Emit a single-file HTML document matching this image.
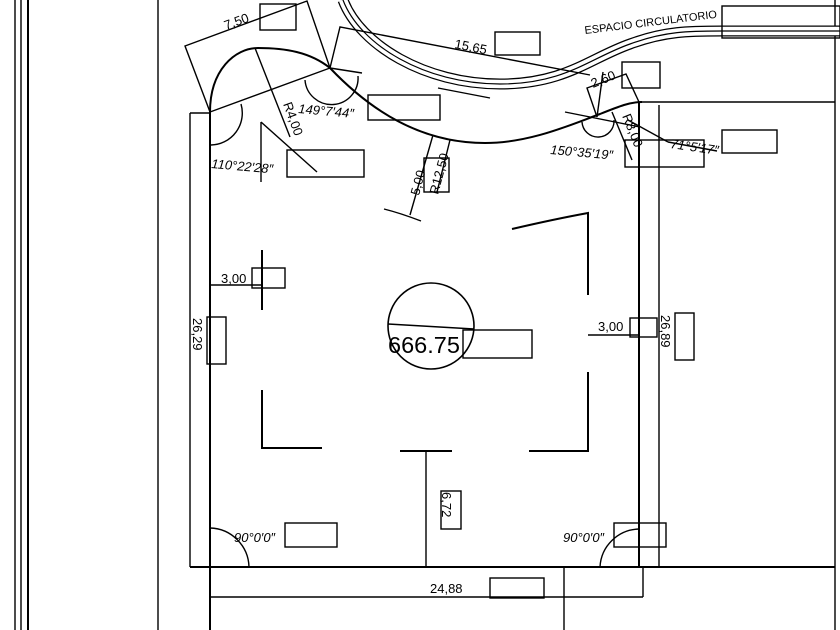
<!DOCTYPE html>
<html><head><meta charset="utf-8"><style>
html,body{margin:0;padding:0;background:#fff;}
svg{display:block;}
text{font-family:"Liberation Sans",sans-serif;fill:#000;}
</style></head><body>
<svg width="840" height="630" viewBox="0 0 840 630" xmlns="http://www.w3.org/2000/svg">
<g stroke="#000" fill="none" stroke-width="1.4">
<line x1="15" y1="0" x2="15" y2="630"/>
<line x1="21" y1="0" x2="21" y2="630"/>
<line x1="28" y1="0" x2="28" y2="630" stroke-width="2"/>
<line x1="158" y1="0" x2="158" y2="630"/>
<line x1="835" y1="0" x2="835" y2="630"/>
<path d="M343,0 C360,45 425,84 500,84 C565,84 590,58 630,44 C665,31 690,31 722,31 L840,31" stroke-width="11"/>
<path d="M343,0 C360,45 425,84 500,84 C565,84 590,58 630,44 C665,31 690,31 722,31 L840,31" stroke="#fff" stroke-width="8.5"/>
<path d="M343,0 C360,45 425,84 500,84 C565,84 590,58 630,44 C665,31 690,31 722,31 L840,31" stroke-width="1.2"/>
<line x1="438" y1="88" x2="490" y2="98"/>
<line x1="210" y1="112" x2="210" y2="630" stroke-width="2"/>
<line x1="190" y1="113" x2="210" y2="113"/>
<line x1="190" y1="113" x2="190" y2="567"/>
<path d="M210,112 C210,70 235,48 258,48 C285,48 310,52 330,68" stroke-width="2"/>
<path d="M330,68 C370,110 420,143 485,143 C530,143 570,125 600,114 C620,106 630,102 642,102" stroke-width="2"/>
<line x1="640" y1="102" x2="835" y2="102"/>
<line x1="639" y1="102" x2="639" y2="567" stroke-width="2"/>
<line x1="659" y1="105" x2="659" y2="567"/>
<line x1="190" y1="567" x2="835" y2="567" stroke-width="2"/>
<line x1="210" y1="597" x2="643" y2="597"/>
<line x1="643" y1="567" x2="643" y2="597"/>
<line x1="564" y1="567" x2="564" y2="630"/>
<polyline points="210,112 185,46 307,1 330,68"/>
<line x1="210" y1="112" x2="330" y2="68"/>
<polyline points="330,68 340,27 590,75"/>
<polyline points="597,117 587,88 626,74 639,102"/>
<line x1="603" y1="72" x2="597" y2="117"/>
<line x1="565" y1="112" x2="640" y2="127"/>
<path d="M582,122 A16,16 0 0 0 614,120"/>
<line x1="612" y1="112" x2="632" y2="160"/>
<line x1="628" y1="120" x2="668" y2="142" />
<line x1="668" y1="142" x2="717" y2="151"/>
<rect x="625" y="140" width="79" height="27"/>
<rect x="722" y="130" width="55" height="23"/>
<line x1="330" y1="68" x2="362" y2="73"/>
<path d="M305,80 A26,26 0 0 0 358,76"/>
<path d="M241,104 A32,32 0 0 1 211,145"/>
<line x1="261" y1="122" x2="261" y2="182"/>
<line x1="261" y1="122" x2="317" y2="172"/>
<line x1="255" y1="48" x2="290" y2="137"/>
<line x1="433" y1="135" x2="410" y2="215"/>
<line x1="450" y1="140" x2="437" y2="192"/>
<path d="M384,209 Q400,213 421,221"/>
<path d="M512,229 Q555,219 588,213 L588,295" stroke-width="2"/>
<line x1="262" y1="250" x2="262" y2="310" stroke-width="2"/>
<line x1="210" y1="285" x2="262" y2="285"/>
<path d="M262,390 L262,448 L322,448" stroke-width="2"/>
<line x1="400" y1="451" x2="452" y2="451" stroke-width="2"/>
<path d="M529,451 L588,451 L588,372" stroke-width="2"/>
<line x1="588" y1="335" x2="639" y2="335"/>
<line x1="426" y1="451" x2="426" y2="567"/>
<circle cx="431" cy="326" r="43" stroke-width="1.6"/>
<line x1="388" y1="324" x2="474" y2="329" stroke-width="1.6"/>
<rect x="463" y="330" width="69" height="28"/>
<path d="M210,528 A40,40 0 0 1 249,567"/>
<path d="M600,567 A40,40 0 0 1 639,529"/>
<rect x="260" y="4" width="36" height="26"/>
<rect x="495" y="32" width="45" height="23"/>
<rect x="622" y="62" width="38" height="26"/>
<rect x="722" y="6" width="118" height="32"/>
<rect x="368" y="95" width="72" height="25"/>
<rect x="287" y="150" width="77" height="27"/>
<rect x="424" y="158" width="25" height="34"/>
<rect x="252" y="268" width="33" height="20"/>
<rect x="630" y="318" width="27" height="19"/>
<rect x="207" y="317" width="19" height="47"/>
<rect x="675" y="313" width="19" height="47"/>
<rect x="441" y="491" width="20" height="38"/>
<rect x="285" y="523" width="52" height="24"/>
<rect x="614" y="523" width="52" height="24"/>
<rect x="490" y="578" width="54" height="20"/>
</g>
<g font-size="13">
<text transform="translate(226,30) rotate(-20)">7,50</text>
<text transform="translate(454,48) rotate(11)">15,65</text>
<text transform="translate(593,88) rotate(-22)">2,60</text>
<text transform="translate(585,34) rotate(-7)" font-size="11">ESPACIO  CIRCULATORIO</text>
<text transform="translate(298,113) rotate(5)" font-style="italic">149°7′44″</text>
<text transform="translate(211,168) rotate(5)" font-style="italic">110°22′28″</text>
<text transform="translate(550,154) rotate(5)" font-style="italic">150°35′19″</text>
<text transform="translate(670,148) rotate(8)" font-style="italic">71°5′17″</text>
<text transform="translate(283,104) rotate(70)">R4,00</text>
<text transform="translate(622,116) rotate(68)">R8,00</text>
<text transform="translate(419,196) rotate(-75)">5,00</text>
<text transform="translate(438,195) rotate(-75)">R12,50</text>
<text x="221" y="283">3,00</text>
<text x="598" y="331">3,00</text>
<text transform="translate(193,318) rotate(90)">26,29</text>
<text transform="translate(661,315) rotate(90)">26,89</text>
<text transform="translate(442,492) rotate(90)">6,72</text>
<text x="234" y="542" font-style="italic">90°0′0″</text>
<text x="563" y="542" font-style="italic">90°0′0″</text>
<text x="430" y="593">24,88</text>
<text x="388" y="353" font-size="23" textLength="72" lengthAdjust="spacingAndGlyphs">666.75</text>
</g>
</svg>
</body></html>
